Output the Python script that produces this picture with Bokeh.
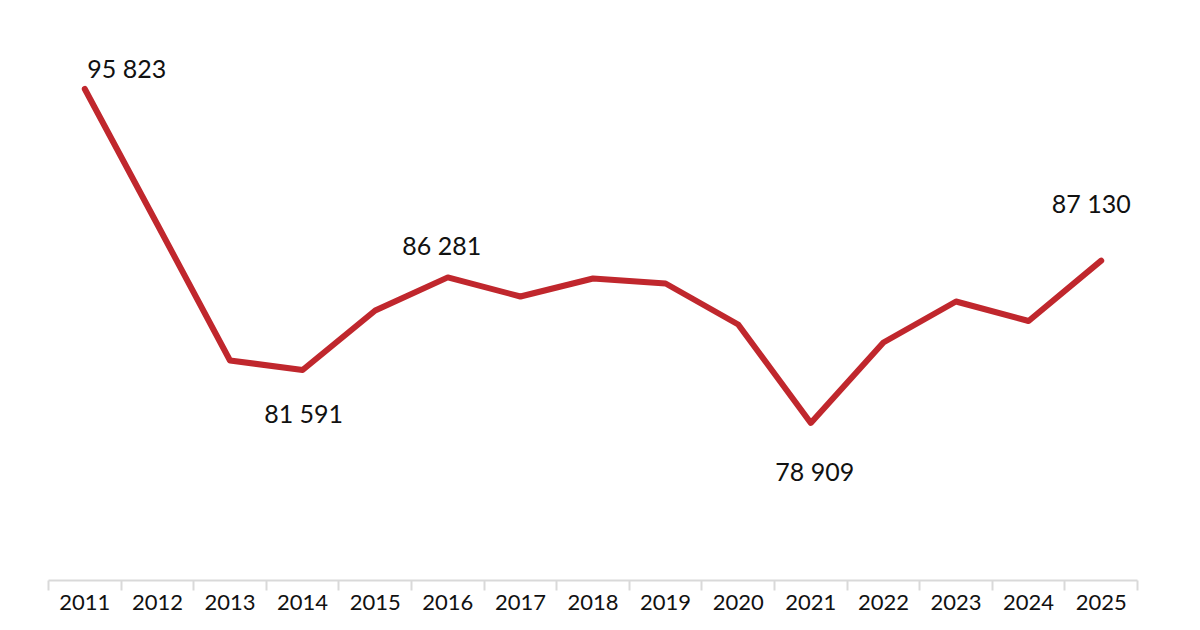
from bokeh.plotting import figure
from bokeh.models import FixedTicker, ColumnDataSource, Range1d
from bokeh.core.properties import value
from bokeh.embed import file_html
from bokeh.resources import INLINE

# ---- data ----
years = ["2011", "2012", "2013", "2014", "2015", "2016", "2017", "2018",
         "2019", "2020", "2021", "2022", "2023", "2024", "2025"]
values = [95823, 88960, 82072, 81591, 84604, 86281, 85313, 86225,
          85972, 83895, 78909, 82983, 85060, 84072, 87130]
label_years = ["2011", "2014", "2016", "2021", "2025"]

# ---- label placement (screen px, relative to point) ----
label_dx = [42, 1, -6, 4, -10]
label_dy = [-21, 43, -32, 48, -58]

xs = list(range(len(years)))
lab_x = [years.index(y) for y in label_years]
lab_v = [values[i] for i in lab_x]
lab_t = [f"{v:,}".replace(",", " ") for v in lab_v]

line_src = ColumnDataSource(dict(x=xs, y=values))
lab_src = ColumnDataSource(dict(x=lab_x, y=lab_v, t=lab_t, dx=label_dx, dy=label_dy))

p = figure(width=1184, height=622, output_backend="svg", toolbar_location=None,
           x_range=Range1d(-0.5, len(years) - 0.5), y_range=Range1d(70928, 100306),
           y_axis_location=None, min_border_left=48, min_border_right=47,
           min_border_top=0, min_border_bottom=42)
p.outline_line_color = None
p.grid.visible = False
p.background_fill_color = "white"
p.border_fill_color = "white"

p.line("x", "y", source=line_src, line_color="#C0272D", line_width=6,
       line_join="round", line_cap="round")

p.text("x", "y", text="t", source=lab_src, x_offset="dx", y_offset="dy",
       text_align="center", text_baseline="alphabetic",
       text_font=value("Lato"), text_font_size="25px", text_color="#111111")

ax = p.xaxis[0]
ax.ticker = FixedTicker(ticks=xs, minor_ticks=[i - 0.5 for i in range(len(years) + 1)])
ax.major_label_overrides = {i: y for i, y in enumerate(years)}
ax.major_tick_line_color = None
ax.minor_tick_line_color = "#D9D9D9"
ax.minor_tick_line_width = 2
ax.minor_tick_out = 10
ax.minor_tick_in = 0
ax.major_tick_out = 10
ax.major_tick_in = 0
ax.axis_line_color = "#D9D9D9"
ax.axis_line_width = 2
ax.major_label_standoff = 4
ax.major_label_text_font = "Lato"
ax.major_label_text_font_size = "22px"
ax.major_label_text_color = "#111111"

open("out.html", "w").write(file_html(p, INLINE))
